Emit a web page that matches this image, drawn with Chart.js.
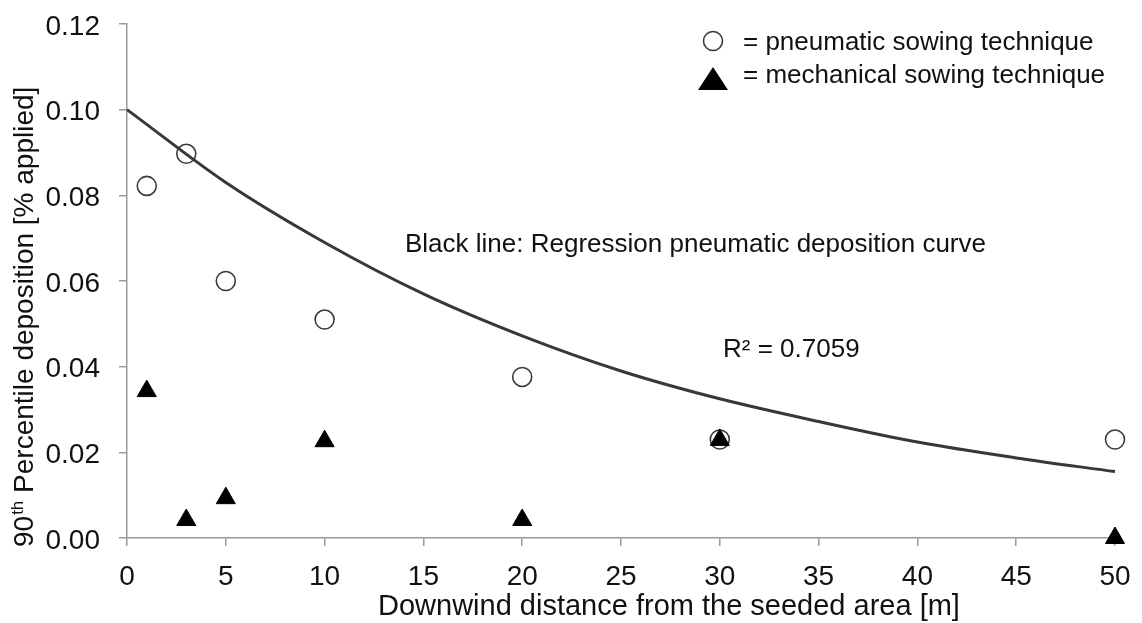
<!DOCTYPE html>
<html>
<head>
<meta charset="utf-8">
<script src="https://cdn.jsdelivr.net/npm/chart.js@4.4.1/dist/chart.umd.min.js"></script>
<style>
  html, body { margin: 0; padding: 0; background: #ffffff; }
  #wrap { width: 1142px; height: 623px; }
  canvas { display: block; }
</style>
</head>
<body>
<div id="wrap"><canvas id="c" width="1142" height="623"></canvas></div>
<script>
// ---- data ----
const distances = [1, 3, 5, 10, 20, 30, 50];
const pneumatic = [0.0822, 0.0897, 0.0600, 0.0510, 0.0376, 0.0230, 0.0230];
const mechanical = [0.0343, 0.0042, 0.0093, 0.0226, 0.0042, 0.0229, 0.0000];
const curveX = [0, 5, 10, 15, 20, 25, 30, 35, 40, 45, 50];
const curveY = [0.1000, 0.0830, 0.0690, 0.0570, 0.0472, 0.0390, 0.0325, 0.0272, 0.0224, 0.0187, 0.0155];
const xTicks = [0, 5, 10, 15, 20, 25, 30, 35, 40, 45, 50];
const yTicks = [0.00, 0.02, 0.04, 0.06, 0.08, 0.10, 0.12];
const seriesNames = ['= pneumatic sowing technique', '= mechanical sowing technique'];
const xTitle = 'Downwind distance from the seeded area [m]';
const yTitleMain = '90';
const yTitleSup = 'th';
const yTitleRest = ' Percentile deposition [% applied]';
const noteText = 'Black line: Regression pneumatic deposition curve';
const r2Text = 'R\u00B2 = 0.7059';

const FONT = "'Liberation Sans', Arial, Helvetica, sans-serif";
const AXIS_COLOR = '#9a9a9a';
const TEXT_COLOR = '#111111';

const toPts = (xs, ys) => xs.map((x, i) => ({ x: x, y: ys[i] }));

const overlayPlugin = {
  id: 'overlay',
  afterDraw(chart) {
    const ctx = chart.ctx;
    ctx.save();
    ctx.fillStyle = TEXT_COLOR;
    ctx.textBaseline = 'alphabetic';

    // x-axis title
    ctx.font = '29px ' + FONT;
    ctx.textAlign = 'left';
    ctx.fillText(xTitle, 378, 615);

    // y-axis title (rotated)
    ctx.save();
    ctx.translate(33, 547);
    ctx.rotate(-Math.PI / 2);
    ctx.textAlign = 'left';
    ctx.font = '28px ' + FONT;
    ctx.fillText(yTitleMain, 0, 0);
    let w = ctx.measureText(yTitleMain).width;
    ctx.font = '17px ' + FONT;
    ctx.fillText(yTitleSup, w + 1, -10);
    w += 1 + ctx.measureText(yTitleSup).width;
    ctx.font = '28px ' + FONT;
    ctx.fillText(yTitleRest, w, 0);
    ctx.restore();

    // annotations
    ctx.font = '26px ' + FONT;
    ctx.textAlign = 'left';
    ctx.fillText(noteText, 405, 252);
    ctx.fillText(r2Text, 723, 357);

    // legend
    const ds0 = chart.data.datasets[1];
    const ds1 = chart.data.datasets[2];
    ctx.beginPath();
    ctx.arc(713, 41, 9.5, 0, Math.PI * 2);
    ctx.lineWidth = ds0.pointBorderWidth;
    ctx.strokeStyle = ds0.pointBorderColor;
    ctx.stroke();
    ctx.beginPath();
    ctx.moveTo(713, 67);
    ctx.lineTo(728, 90);
    ctx.lineTo(698, 90);
    ctx.closePath();
    ctx.fillStyle = ds1.pointBackgroundColor;
    ctx.fill();
    ctx.fillStyle = TEXT_COLOR;
    ctx.font = '26px ' + FONT;
    ctx.textBaseline = 'middle';
    ctx.fillText(ds0.label, 743, 43);
    ctx.fillText(ds1.label, 743, 76);
    ctx.restore();
  }
};

new Chart(document.getElementById('c'), {
  type: 'scatter',
  data: {
    datasets: [
      {
        label: 'Regression pneumatic deposition curve',
        type: 'line',
        data: toPts(curveX, curveY),
        borderColor: '#383838',
        borderWidth: 3,
        pointRadius: 0,
        fill: false,
        cubicInterpolationMode: 'monotone',
        clip: false,
        order: 0
      },
      {
        label: seriesNames[0],
        data: toPts(distances, pneumatic),
        pointStyle: 'circle',
        pointRadius: 9.5,
        pointBorderWidth: 1.6,
        pointBorderColor: '#3a3a3a',
        pointBackgroundColor: 'rgba(255,255,255,0)',
        clip: false,
        order: 2
      },
      {
        label: seriesNames[1],
        data: toPts(distances, mechanical),
        pointStyle: 'triangle',
        pointRadius: 11,
        pointBorderWidth: 1,
        pointBorderColor: '#000000',
        pointBackgroundColor: '#000000',
        clip: false,
        order: 1
      }
    ]
  },
  options: {
    responsive: false,
    animation: false,
    devicePixelRatio: 1,
    layout: { padding: { left: 0, right: 27, top: 24, bottom: 0 } },
    plugins: {
      legend: { display: false },
      tooltip: { enabled: false }
    },
    scales: {
      x: {
        type: 'linear',
        min: 0,
        max: 50,
        afterBuildTicks: (s) => { s.ticks = xTicks.map(v => ({ value: v })); },
        afterFit: (s) => { s.height = 85; s.paddingLeft = 0; s.paddingRight = 0; },
        ticks: {
          font: { size: 28, family: FONT },
          color: TEXT_COLOR,
          padding: 14,
          maxRotation: 0,
          autoSkip: false,
          callback: (v) => String(v)
        },
        grid: {
          display: true,
          drawOnChartArea: false,
          drawTicks: true,
          tickLength: 8,
          color: AXIS_COLOR,
          lineWidth: 1.5
        },
        border: { display: true, color: AXIS_COLOR, width: 1.5 },
        title: { display: false }
      },
      y: {
        type: 'linear',
        min: 0,
        max: 0.12,
        afterBuildTicks: (s) => { s.ticks = yTicks.map(v => ({ value: v })); },
        afterFit: (s) => { s.width = 127; s.paddingTop = 0; s.paddingBottom = 0; },
        ticks: {
          font: { size: 28, family: FONT },
          color: TEXT_COLOR,
          padding: 19,
          labelOffset: 3,
          autoSkip: false,
          callback: (v) => Number(v).toFixed(2)
        },
        grid: {
          display: true,
          drawOnChartArea: false,
          drawTicks: true,
          tickLength: 8,
          color: AXIS_COLOR,
          lineWidth: 1.5
        },
        border: { display: true, color: AXIS_COLOR, width: 1.5 },
        title: { display: false }
      }
    }
  },
  plugins: [overlayPlugin]
});
</script>
</body>
</html>
